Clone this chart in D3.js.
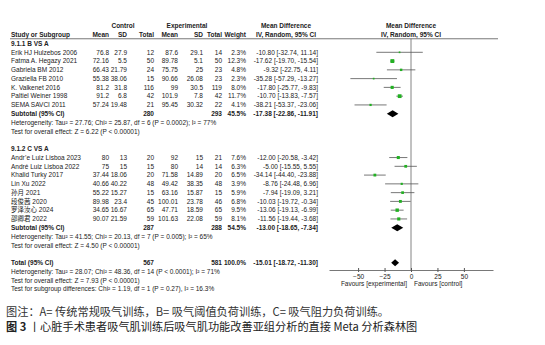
<!DOCTYPE html>
<html lang="zh">
<head>
<meta charset="UTF-8" />
<title>Forest plot</title>
<style>
  body { margin: 0; background: #fff; }
  svg text { font-family: "Liberation Sans", Arial, "Noto Sans CJK SC", sans-serif; fill: #222; }
  .cap { font-family: "Noto Sans CJK SC", sans-serif; }
</style>
</head>
<body>
<div id="chart"></div>
<script src="https://d3js.org/d3.v7.min.js"></script>
<script>
// 9.1.1 B VS A
const studiesB = ['Erik HJ Hulzebos 2006', 'Fatma A. Hegazy 2021', 'Gabriela BM 2012', 'Graziella FB 2010',
  'K. Valkenet 2016', 'Paltiel Weiner 1998', 'SEMA SAVCI 2011']
const ctrlB = [[76.8, 27.9, 12], [72.16, 5.5, 50], [66.43, 21.79, 24], [55.38, 38.06, 15],
  [81.2, 31.8, 116], [91.2, 6.8, 42], [57.24, 19.48, 21]]
const expB = [[87.6, 29.1, 14], [89.78, 5.1, 50], [75.75, 25, 23], [90.66, 26.08, 23],
  [99, 30.5, 119], [101.9, 7.8, 42], [95.45, 30.32, 22]]
const weightB = [2.3, 12.3, 4.8, 2.3, 8.0, 11.7, 4.1]
const mdB = [[-10.80, -32.74, 11.14], [-17.62, -19.70, -15.54], [-9.32, -22.75, 4.11], [-35.28, -57.29, -13.27],
  [-17.80, -25.77, -9.83], [-10.70, -13.83, -7.57], [-38.21, -53.37, -23.06]]
const subB = { ctrlN: 280, expN: 293, weight: 45.5, md: [-17.38, -22.86, -11.91] }
const hetB = ['Heterogeneity: Tau² = 27.76; Chi² = 25.87, df = 6 (P = 0.0002); I² = 77%',
  'Test for overall effect: Z = 6.22 (P < 0.00001)']

// 9.1.2 C VS A
const studiesC = ['Andr\u2019e Luiz Lisboa 2023', 'André Luiz Lisboa 2022', 'Khalid Turky 2017', 'Lin Xu 2022',
  '孙月 2021', '段俊茜 2020', '罗泽汝心 2024', '邵卿君 2022']
const ctrlC = [[80, 13, 20], [75, 15, 15], [37.44, 18.06, 20], [40.66, 40.22, 48],
  [55.22, 15.27, 15], [89.98, 23.4, 45], [34.65, 16.67, 65], [90.07, 21.59, 59]]
const expC = [[92, 15, 21], [80, 14, 14], [71.58, 14.89, 20], [49.42, 38.35, 48],
  [63.16, 15.87, 15], [100.01, 23.78, 46], [47.71, 18.59, 65], [101.63, 22.08, 59]]
const weightC = [7.6, 6.3, 6.5, 3.9, 5.9, 6.8, 9.5, 8.1]
const mdC = [[-12.00, -20.58, -3.42], [-5.00, -15.55, 5.55], [-34.14, -44.40, -23.88], [-8.76, -24.48, 6.96],
  [-7.94, -19.09, 3.21], [-10.03, -19.72, -0.34], [-13.06, -19.13, -6.99], [-11.56, -19.44, -3.68]]
const subC = { ctrlN: 287, expN: 288, weight: 54.5, md: [-13.00, -18.65, -7.34] }
const hetC = ['Heterogeneity: Tau² = 41.55; Chi² = 20.13, df = 7 (P = 0.005); I² = 65%',
  'Test for overall effect: Z = 4.50 (P < 0.00001)']

// Total
const total = { ctrlN: 567, expN: 581, weight: 100.0, md: [-15.01, -18.72, -11.30] }
const hetTotal = ['Heterogeneity: Tau² = 28.07; Chi² = 48.36, df = 14 (P < 0.0001); I² = 71%',
  'Test for overall effect: Z = 7.93 (P < 0.00001)',
  'Test for subgroup differences: Chi² = 1.19, df = 1 (P = 0.27), I² = 16.3%']

const axisTicks = [-50, -25, 0, 25, 50]
const caption1 = '图注：A= 传统常规吸气训练，B= 吸气阈值负荷训练，C= 吸气阻力负荷训练。'
const caption2 = '丨心脏手术患者吸气肌训练后吸气肌功能改善亚组分析的直接 Meta 分析森林图'

const W = 545, H = 345
const fs = 6.5
const svg = d3.select('#chart').append('svg').attr('width', W).attr('height', H)
svg.append('rect').attr('width', W).attr('height', H).attr('fill', '#fff')

// 行位置
const rowY = i => 26 + i * 8.77
// 欄位 (右對齊)
const col = { name: 11, cMean: 109, cSD: 127, cN: 154, eMean: 178, eSD: 203, eN: 222, w: 246, ci: 318 }

const x = d3.scaleLinear().domain([-77.5, 77.5]).range([329, 493])

const txt = (xx, i, s, anchor = 'end', bold = false) =>
  svg.append('text').attr('x', xx).attr('y', rowY(i)).attr('dy', '0.35em')
    .attr('text-anchor', anchor).attr('font-size', fs).attr('font-weight', bold ? 'bold' : 'normal').text(s)

const fmtCI = m => `${m[0].toFixed(2)} [${m[1].toFixed(2)}, ${m[2].toFixed(2)}]`

// 表頭
txt(123, 0, 'Control', 'middle', true)
txt(187, 0, 'Experimental', 'middle', true)
txt(286, 0, 'Mean Difference', 'middle', true)
txt(x(0), 0, 'Mean Difference', 'middle', true)
txt(col.name, 1, 'Study or Subgroup', 'start', true)
txt(col.cMean, 1, 'Mean', 'end', true)
txt(col.cSD, 1, 'SD', 'end', true)
txt(col.cN, 1, 'Total', 'end', true)
txt(col.eMean, 1, 'Mean', 'end', true)
txt(col.eSD, 1, 'SD', 'end', true)
txt(col.eN, 1, 'Total', 'end', true)
txt(col.w, 1, 'Weight', 'end', true)
txt(286, 1, 'IV, Random, 95% CI', 'middle', true)
txt(x(0), 1, 'IV, Random, 95% CI', 'middle', true)

const headLineY = rowY(1) + 4
svg.append('line').attr('x1', 10).attr('x2', 498).attr('y1', headLineY).attr('y2', headLineY)
  .attr('stroke', '#555').attr('stroke-width', 0.8)

// 零線
const axisY = 270
svg.append('line').attr('x1', x(0)).attr('x2', x(0)).attr('y1', headLineY).attr('y2', axisY)
  .attr('stroke', '#666').attr('stroke-width', 0.8)

const drawGroup = (start, label, names, ctrl, exp, wts, mds, sub, het) => {
  txt(col.name, start, label, 'start', true)
  names.forEach((n, k) => {
    const i = start + 1 + k
    txt(col.name, i, n, 'start')
    txt(col.cMean, i, String(ctrl[k][0])); txt(col.cSD, i, String(ctrl[k][1])); txt(col.cN, i, String(ctrl[k][2]))
    txt(col.eMean, i, String(exp[k][0])); txt(col.eSD, i, String(exp[k][1])); txt(col.eN, i, String(exp[k][2]))
    txt(col.w, i, wts[k].toFixed(1) + '%')
    txt(col.ci, i, fmtCI(mds[k]))
    const yy = rowY(i)
    svg.append('line').attr('x1', x(mds[k][1])).attr('x2', x(mds[k][2])).attr('y1', yy).attr('y2', yy)
      .attr('stroke', '#555').attr('stroke-width', 0.8)
    const s = Math.sqrt(wts[k]) * 1.1
    svg.append('rect').attr('x', x(mds[k][0]) - s / 2).attr('y', yy - s / 2)
      .attr('width', s).attr('height', s).attr('fill', '#22b022')
  })
  const si = start + 1 + names.length
  txt(col.name, si, 'Subtotal (95% CI)', 'start', true)
  txt(col.cN, si, String(sub.ctrlN), 'end', true)
  txt(col.eN, si, String(sub.expN), 'end', true)
  txt(col.w, si, sub.weight.toFixed(1) + '%', 'end', true)
  txt(col.ci, si, fmtCI(sub.md), 'end', true)
  diamond(sub.md, rowY(si))
  het.forEach((h, k) => txt(col.name, si + 1 + k, h, 'start'))
}

function diamond(m, yy) {
  const h = 3.5
  svg.append('path')
    .attr('d', `M${x(m[1])},${yy}L${x(m[0])},${yy - h}L${x(m[2])},${yy}L${x(m[0])},${yy + h}Z`)
    .attr('fill', '#000')
}

drawGroup(2, '9.1.1 B VS A', studiesB, ctrlB, expB, weightB, mdB, subB, hetB)
drawGroup(14, '9.1.2 C VS A', studiesC, ctrlC, expC, weightC, mdC, subC, hetC)

// Total
txt(col.name, 27, 'Total (95% CI)', 'start', true)
txt(col.cN, 27, String(total.ctrlN), 'end', true)
txt(col.eN, 27, String(total.expN), 'end', true)
txt(col.w, 27, total.weight.toFixed(1) + '%', 'end', true)
txt(col.ci, 27, fmtCI(total.md), 'end', true)
diamond(total.md, rowY(27))
hetTotal.forEach((h, k) => txt(col.name, 28 + k, h, 'start'))

// 軸線
const axis = d3.axisBottom(x).tickValues(axisTicks).tickSize(3).tickSizeOuter(0).tickPadding(1)
const ag = svg.append('g').attr('transform', `translate(0,${axisY})`).call(axis)
ag.select('.domain').attr('stroke', '#555').attr('stroke-width', 0.8)
ag.selectAll('.tick line').attr('stroke', '#555').attr('y1', -2).attr('y2', 2)
ag.selectAll('.tick text').attr('font-size', fs).attr('fill', '#222')
  .attr('font-family', '"Liberation Sans", Arial, sans-serif')

svg.append('text').attr('x', x(0) - 4).attr('y', 284).attr('dy', '0.35em').attr('text-anchor', 'end')
  .attr('font-size', fs).text('Favours [experimental]')
svg.append('text').attr('x', x(0) + 3).attr('y', 284).attr('dy', '0.35em').attr('text-anchor', 'start')
  .attr('font-size', fs).text('Favours [control]')

// 圖注
svg.append('text').attr('class', 'cap').attr('x', 6).attr('y', 312.5).attr('dy', '0.35em')
  .attr('font-size', 11.2).style('fill', '#333').text(caption1)
const c2 = svg.append('text').attr('class', 'cap').attr('x', 6).attr('y', 327).attr('dy', '0.35em')
  .attr('font-size', 11.2).style('fill', '#222')
c2.append('tspan').attr('font-weight', 'bold').text('图 3 ')
c2.append('tspan').text(caption2)
</script>
</body>
</html>
